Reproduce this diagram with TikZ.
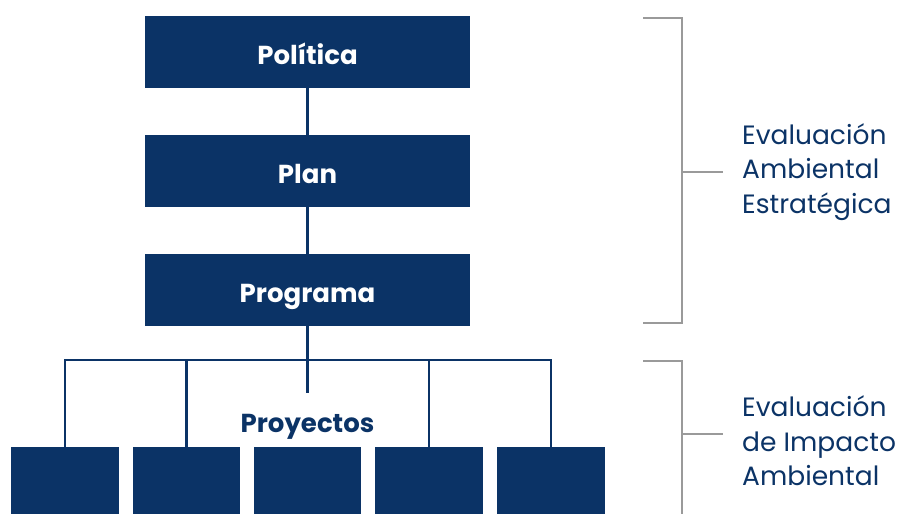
\documentclass[tikz,border=0pt]{standalone}
\usepackage{fontspec}
\setmainfont{Poppins}
\definecolor{navy}{HTML}{0B3366}
\definecolor{brk}{HTML}{9A9A9A}
\begin{document}
\begin{tikzpicture}[x=1pt,y=-1pt,
  topbox/.style={fill=navy,draw=none,minimum width=325pt,minimum height=72pt,inner sep=0pt},
  boxtext/.style={anchor=base,inner sep=0pt,text=white,font=\fontsize{26}{30}\selectfont\bfseries},
  projbox/.style={fill=navy,draw=none,minimum width=107.5pt,minimum height=67pt,inner sep=0pt},
  conn/.style={draw=navy,line width=2.5pt},
  bracket/.style={draw=brk,line width=2.2pt},
  sidelabel/.style={anchor=west,align=left,text=navy,inner sep=0pt,font=\fontsize{26.5}{34.5}\selectfont}]
\useasboundingbox (0,0) rectangle (907,514);
\node[topbox] (pol) at (307.5,52) {};
\node[topbox] (plan) at (307.5,171) {};
\node[topbox] (prog) at (307.5,290) {};
\node[boxtext] (poltxt) at (307.5,64) {Política};
\node[boxtext] (plantxt) at (307.5,183) {Plan};
\node[boxtext] (progtxt) at (307.5,302) {Programa};
\node[projbox] (b1) at (65,480.5) {};
\node[projbox] (b2) at (186.5,480.5) {};
\node[projbox] (b3) at (307.5,480.5) {};
\node[projbox] (b4) at (429,480.5) {};
\node[projbox] (b5) at (551,480.5) {};
\coordinate (hub) at (307.5,360);
\coordinate (stub) at (307.5,393);
\draw[conn] (pol.south) -- (plan.north);
\draw[conn] (plan.south) -- (prog.north);
\draw[conn] (prog.south) -- (stub);
\draw[conn] (b1.north) -- (b1.north |- hub) -- (b5.north |- hub) -- (b5.north);
\draw[conn] (b2.north) -- (b2.north |- hub);
\draw[conn] (b4.north) -- (b4.north |- hub);
\node[boxtext,text=navy] (proy) at (307.5,432) {Proyectos};
% brackets
\coordinate (t1) at (643,18);
\coordinate (t2) at (682,18);
\coordinate (t3) at (682,323);
\coordinate (t4) at (643,323);
\coordinate (tm) at (682,172);
\coordinate (tt) at (723,172);
\draw[bracket] (t1) -- (t2) -- (t3) -- (t4);
\draw[bracket] (tm) -- (tt);
\coordinate (u1) at (643,361);
\coordinate (u2) at (682,361);
\coordinate (u3) at (682,514);
\coordinate (um) at (682,434);
\coordinate (ut) at (723,434);
\draw[bracket] (u1) -- (u2) -- (u3);
\draw[bracket] (um) -- (ut);
\node[sidelabel] (eae) at (742,172) {Evaluación\\Ambiental\\Estratégica};
\node[sidelabel] (eia) at (742,441) {Evaluación\\de Impacto\\Ambiental};
\end{tikzpicture}
\end{document}
